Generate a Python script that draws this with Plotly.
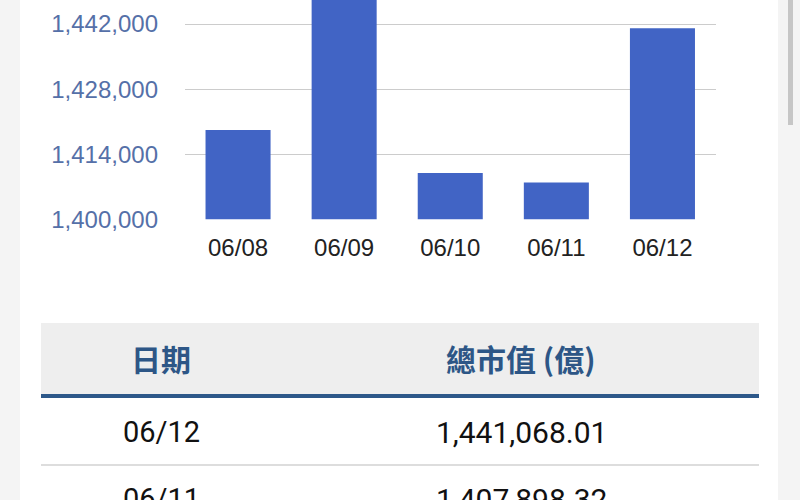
import plotly.graph_objects as go

# market cap by day (億), 06/09 is cut off at the top of the screenshot so it's a guess
dates = ['06/08', '06/09', '06/10', '06/11', '06/12']
values = [1419200, 1450000, 1409950, 1407898.32, 1441068.01]
y_ticks = [1400000, 1414000, 1428000, 1442000]
table_head = ['日期', '總市值 (億)']

W, H = 800, 500

def py(p):  # pixel row -> paper y
  return 1 - p / H

def px_(p):  # pixel col -> paper x
  return p / W

fig = go.Figure()
fig.add_trace(go.Bar(x = dates, y = values, marker_color = '#4164c5', marker_line_width = 0,
                     hoverinfo = 'x+y'))

shapes = []
# white card on grey page
shapes.append(dict(type = 'rect', xref = 'paper', yref = 'paper', x0 = px_(20), x1 = px_(778), y0 = 0, y1 = 1,
                   fillcolor = 'white', line_width = 0, layer = 'below'))
# scrollbar thumb
shapes.append(dict(type = 'rect', xref = 'paper', yref = 'paper', x0 = px_(788), x1 = px_(793), y0 = py(125), y1 = 1,
                   fillcolor = '#c6c6c6', line_width = 0, layer = 'below'))
# table header background + rules
shapes.append(dict(type = 'rect', xref = 'paper', yref = 'paper', x0 = px_(41), x1 = px_(759), y0 = py(394), y1 = py(323),
                   fillcolor = '#eeeeee', line_width = 0, layer = 'below'))
shapes.append(dict(type = 'rect', xref = 'paper', yref = 'paper', x0 = px_(41), x1 = px_(759), y0 = py(398), y1 = py(394),
                   fillcolor = '#2d5889', line_width = 0))
shapes.append(dict(type = 'line', xref = 'paper', yref = 'paper', x0 = px_(41), x1 = px_(759), y0 = py(465), y1 = py(465),
                   line = dict(color = '#dddddd', width = 2)))

annotations = []
col_x = [161, 521]
for i, h in enumerate(table_head):
  annotations.append(dict(xref = 'paper', yref = 'paper', x = px_(col_x[i]), y = py(358), text = '<b>' + h + '</b>',
                          showarrow = False, xanchor = 'center', yanchor = 'middle',
                          font = dict(family = 'Noto Sans CJK TC', size = 30, color = '#2d5686')))
# table rows, newest first (second row is cut by the bottom edge, like the screenshot)
row_y = [432, 499]
for r, i in enumerate(range(len(dates) - 1, len(dates) - 3, -1)):
  annotations.append(dict(xref = 'paper', yref = 'paper', x = px_(col_x[0]), y = py(row_y[r]), text = dates[i],
                          showarrow = False, xanchor = 'center', yanchor = 'middle',
                          font = dict(family = 'Roboto', size = 29, color = '#111111')))
  annotations.append(dict(xref = 'paper', yref = 'paper', x = px_(col_x[1]), y = py(row_y[r]), text = f'{values[i]:,.2f}',
                          showarrow = False, xanchor = 'center', yanchor = 'middle',
                          font = dict(family = 'Roboto', size = 30, color = '#111111')))

y0 = 1400000
per_px = (1442000 - 1400000) / (219.3 - 24)
y_top = y0 + 219.3 * per_px

fig.update_layout(
  width = W, height = H,
  margin = dict(l = 0, r = 0, t = 0, b = 0, autoexpand = False),
  paper_bgcolor = '#f4f4f4',
  plot_bgcolor = 'rgba(0,0,0,0)',
  bargap = 0.387,
  showlegend = False,
  shapes = shapes,
  annotations = annotations,
  xaxis = dict(domain = [px_(185), px_(715.5)], showgrid = False, showline = False, zeroline = False,
               tickfont = dict(family = 'Liberation Sans', size = 24, color = '#222222'), ticks = '', ticklabelstandoff = 12),
  yaxis = dict(domain = [py(219.3), 1], range = [y0, y_top], tickvals = y_ticks, tickformat = ',d',
               showgrid = True, gridcolor = '#cccccc', gridwidth = 1, zeroline = False, showline = False,
               tickfont = dict(family = 'Liberation Sans', size = 24, color = '#5570a8'), ticklabelstandoff = 26),
)

# page has default 8px body margin, drop it so the figure sits at the window corner
fig.write_html('out.html', config = dict(displayModeBar = False),
               post_script = "document.body.style.margin = '0'; document.body.style.overflow = 'hidden';")
